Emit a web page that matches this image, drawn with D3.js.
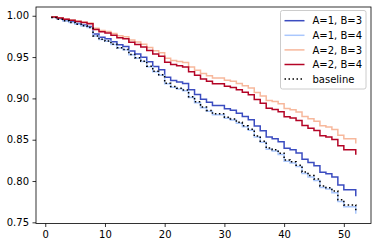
<!DOCTYPE html>
<html><head><meta charset="utf-8">
<script src="https://cdn.jsdelivr.net/npm/d3@7/dist/d3.min.js"></script>
<style>
html,body{margin:0;padding:0;background:#fff;}
svg{display:block;font-family:"DejaVu Sans",sans-serif;}
</style></head>
<body><svg id="c" width="378" height="248"></svg>
<script>
const weeks = [1,2,3,4,5,6,7,8,9,10,11,12,13,14,15,16,17,18,19,20,21,22,23,24,25,26,27,28,29,30,31,32,33,34,35,36,37,38,39,40,41,42,43,44,45,46,47,48,49,50,51,52];
const sA1B3 = [.9981,.9963,.9944,.9926,.9907,.9889,.9870,.9778,.9741,.9722,.9685,.9648,.9629,.9573,.9536,.9498,.9442,.9386,.9348,.9255,.9217,.9198,.9179,.9104,.9047,.8990,.8952,.8914,.8914,.8876,.8857,.8819,.8781,.8743,.8667,.8609,.8532,.8513,.8475,.8398,.8378,.8340,.8263,.8224,.8185,.8107,.8088,.8049,.7952,.7893,.7893,.7815];
const sA1B4 = [.9980,.9959,.9938,.9918,.9897,.9877,.9857,.9754,.9712,.9692,.9651,.9609,.9589,.9527,.9486,.9445,.9383,.9321,.9279,.9176,.9135,.9114,.9093,.9011,.8948,.8886,.8844,.8803,.8803,.8761,.8740,.8698,.8657,.8614,.8532,.8468,.8385,.8364,.8322,.8238,.8217,.8175,.8091,.8049,.8006,.7923,.7902,.7859,.7753,.7690,.7690,.7605];
const sA2B3 = [.9987,.9975,.9962,.9949,.9937,.9924,.9911,.9848,.9823,.9810,.9784,.9759,.9746,.9707,.9681,.9655,.9616,.9577,.9551,.9486,.9460,.9446,.9433,.9380,.9341,.9300,.9274,.9247,.9247,.9220,.9206,.9179,.9152,.9125,.9071,.9030,.8975,.8961,.8934,.8878,.8864,.8836,.8781,.8753,.8724,.8668,.8654,.8625,.8554,.8511,.8511,.8454];
const sA2B4 = [.9986,.9972,.9958,.9945,.9931,.9917,.9903,.9834,.9806,.9792,.9764,.9735,.9721,.9679,.9651,.9623,.9580,.9537,.9509,.9438,.9409,.9395,.9380,.9322,.9279,.9235,.9206,.9177,.9177,.9148,.9133,.9104,.9074,.9045,.8986,.8941,.8882,.8867,.8837,.8777,.8762,.8731,.8671,.8640,.8610,.8549,.8534,.8503,.8426,.8379,.8379,.8317];
const baseline = [.9980,.9959,.9939,.9919,.9898,.9878,.9858,.9756,.9715,.9695,.9654,.9613,.9593,.9532,.9491,.9450,.9389,.9327,.9286,.9184,.9143,.9122,.9102,.9020,.8958,.8896,.8855,.8814,.8814,.8772,.8752,.8710,.8669,.8627,.8545,.8482,.8400,.8379,.8337,.8254,.8233,.8191,.8108,.8066,.8024,.7941,.7920,.7878,.7773,.7710,.7710,.7626];
const seriesNames = ["A=1, B=3","A=1, B=4","A=2, B=3","A=2, B=4","baseline"];
const xTicks = [0,10,20,30,40,50];
const yTicks = [0.75,0.80,0.85,0.90,0.95,1.00];

const series = [
  {name: seriesNames[0], values: sA1B3, color: "#3b4cc0", dash: null},
  {name: seriesNames[1], values: sA1B4, color: "#aac7fd", dash: null},
  {name: seriesNames[2], values: sA2B3, color: "#f7b89c", dash: null},
  {name: seriesNames[3], values: sA2B4, color: "#b40426", dash: null},
  {name: seriesNames[4], values: baseline, color: "#000000", dash: "1.5,2.5"}
];

const L = 36, R = 371, T = 7, B = 223.5;
const svg = d3.select("#c");
const x = d3.scaleLinear().domain([-1.55, 54.55]).range([L, R]);
const y = d3.scaleLinear().domain([0.7486, 1.0106]).range([B, T]);

const g = svg.append("g");
const line = d3.line().curve(d3.curveStepAfter).x(d => x(d[0])).y(d => y(d[1]));
series.forEach(s => {
  g.append("path")
    .datum(weeks.map((w, i) => [w, s.values[i]]))
    .attr("d", line)
    .attr("fill", "none")
    .attr("stroke", s.color)
    .attr("stroke-width", 1.5)
    .attr("stroke-dasharray", s.dash)
    .attr("stroke-linejoin", "miter");
});

// axes
const xAxis = d3.axisBottom(x).tickValues(xTicks).tickFormat(d3.format("d")).tickSize(3.5).tickPadding(3.5);
const yAxis = d3.axisLeft(y).tickValues(yTicks).tickFormat(d3.format(".2f")).tickSize(3.5).tickPadding(3.5);
const gx = svg.append("g").attr("transform", `translate(0,${B})`).call(xAxis);
const gy = svg.append("g").attr("transform", `translate(${L},0)`).call(yAxis);
[gx, gy].forEach(a => {
  a.select(".domain").remove();
  a.selectAll(".tick line").attr("stroke", "#000").attr("stroke-width", 0.8);
  a.selectAll(".tick text").attr("fill", "#000").style("font-size", "10px").style("font-family", "DejaVu Sans");
});

// frame
svg.append("rect").attr("x", L).attr("y", T).attr("width", R - L).attr("height", B - T)
  .attr("fill", "none").attr("stroke", "#000").attr("stroke-width", 0.8);

// legend
const lg = svg.append("g");
lg.append("rect").attr("x", 280.5).attr("y", 10.5).attr("width", 85.5).attr("height", 78.5)
  .attr("rx", 2).attr("ry", 2)
  .attr("fill", "#fff").attr("fill-opacity", 0.8).attr("stroke", "#cccccc").attr("stroke-width", 1);
series.forEach((s, i) => {
  const cy = 20.7 + i * 14.6;
  lg.append("line").attr("x1", 284.5).attr("x2", 304.5).attr("y1", cy).attr("y2", cy)
    .attr("stroke", s.color).attr("stroke-width", 1.5).attr("stroke-dasharray", s.dash);
  lg.append("text").attr("x", 312.5).attr("y", cy).attr("dy", "0.36em")
    .style("font-size", "10px").style("font-family", "DejaVu Sans").attr("fill", "#000")
    .text(s.name);
});
</script></body></html>
